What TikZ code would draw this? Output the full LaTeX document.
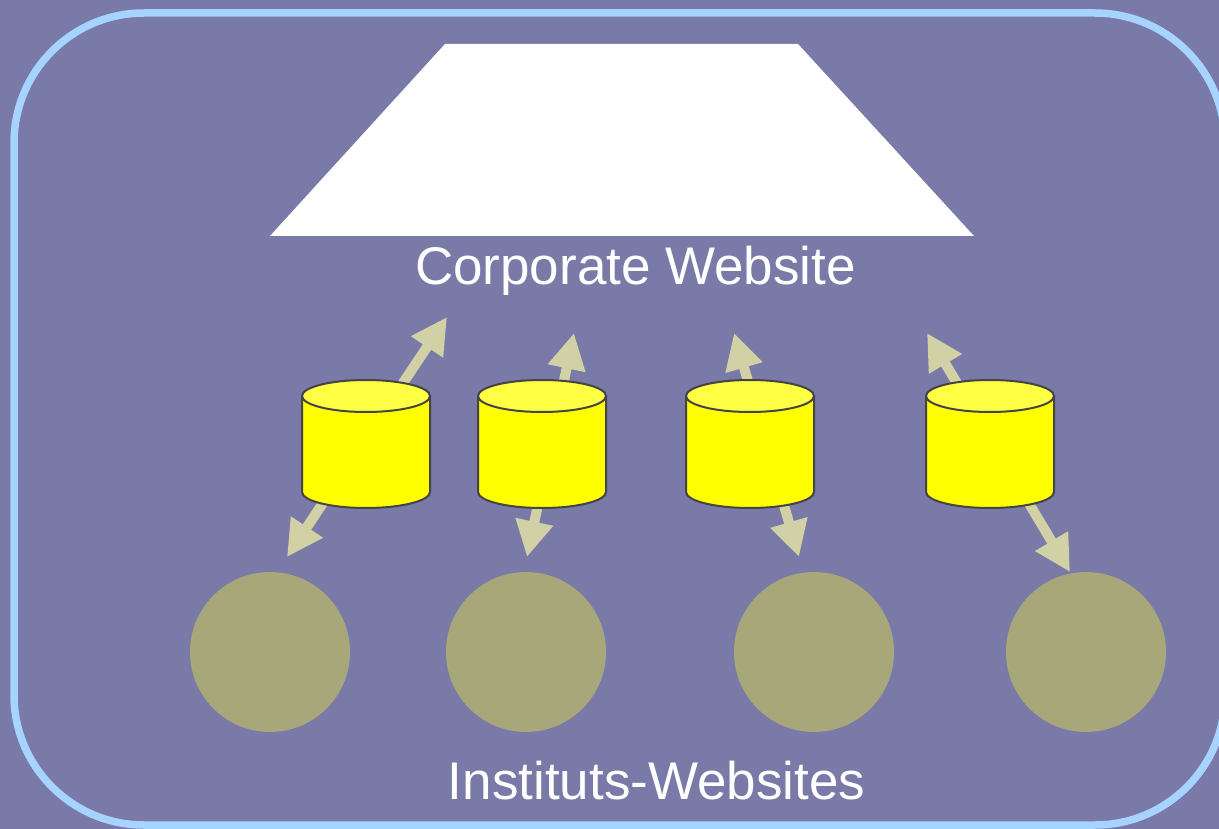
\documentclass[tikz,border=0pt]{standalone}
\usepackage{fontspec}
\setmainfont{Liberation Sans}
\usetikzlibrary{arrows.meta}
\definecolor{bg}{HTML}{797AA7}
\definecolor{framec}{HTML}{A6D3FF}
\definecolor{sitec}{HTML}{A8A779}
\definecolor{arrowc}{HTML}{D2D1A6}
\definecolor{cyltop}{HTML}{FFFF44}
\definecolor{cylbody}{HTML}{FFFF00}
\definecolor{cyledge}{HTML}{444444}
\tikzset{
  sitenode/.style={circle, fill=sitec, minimum size=160pt, inner sep=0pt},
  linkarrow/.style={draw=arrowc, line width=10pt,
    {Triangle[length=36pt,width=36pt]}-{Triangle[length=36pt,width=36pt]}},
  cylline/.style={draw=cyledge, line width=2pt},
  label/.style={text=white, anchor=base, inner sep=0pt}
}
\begin{document}
\begin{tikzpicture}[x=1pt,y=-1pt]
\fill[bg] (0,0) rectangle (1219,829);
\useasboundingbox (0,0) rectangle (1219,829);
\clip (0,0) rectangle (1219,829);
\draw[framec, line width=7.5pt, rounded corners=130pt] (14,13) rectangle (1225,825);
% corporate website trapezoid
\fill[white] (445,44) -- (798,44) -- (974,236) -- (270,236) -- cycle;
\node[label, font=\fontsize{53}{63}\selectfont] (corp) at (635.5,284) {Corporate Website};
% institute sites
\node[sitenode] (s1) at (270,652) {};
\node[sitenode] (s2) at (526,652) {};
\node[sitenode] (s3) at (814,652) {};
\node[sitenode] (s4) at (1086,652) {};
\node[label, font=\fontsize{53}{63}\selectfont] (inst) at (656.5,799) {Instituts-Websites};
% arrow end points
\coordinate (t1) at (447,317); \coordinate (b1) at (287,557);
\coordinate (t2) at (574,333); \coordinate (b2) at (527,557);
\coordinate (t3) at (734,333); \coordinate (b3) at (799,557);
\coordinate (t4) at (927,333); \coordinate (b4) at (1070,572);
\foreach \n in {1,2,3,4} { \draw[linkarrow] (b\n) -- (t\n); }
% cylinders
\foreach \n/\x in {1/366,2/542,3/750,4/990} {
  \coordinate (c\n) at (\x,444);
  \path[fill=cylbody, cylline] (\x-64,396) -- (\x-64,492)
     arc[start angle=180, end angle=0, x radius=64, y radius=16] -- (\x+64,396) -- cycle;
  \path[fill=cyltop, cylline] (\x,396) ellipse[x radius=64, y radius=16];
}
\end{tikzpicture}
\end{document}
